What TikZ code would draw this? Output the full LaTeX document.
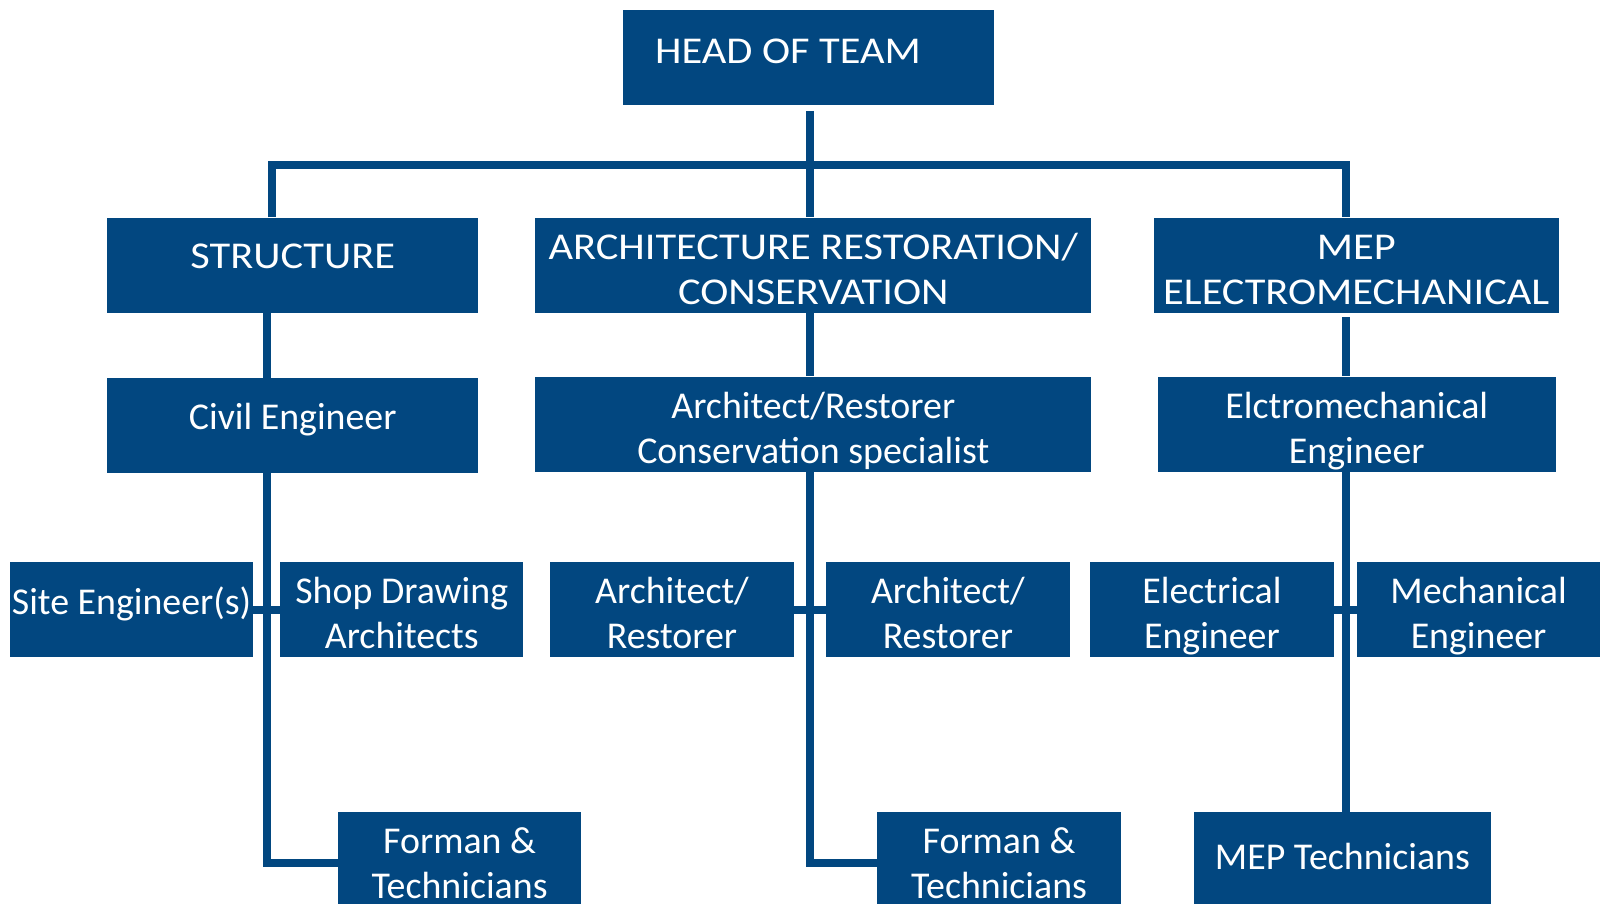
\documentclass[tikz,border=0pt]{standalone}
\usepackage{fontspec}
\setmainfont{Carlito}
\newfontfamily\capsfont[FakeStretch=1.12]{Carlito}
\usetikzlibrary{calc}
\definecolor{boxblue}{RGB}{2,71,128}
\newcommand{\oneline}[2][51]{\raisebox{0pt}[#1pt][\dimexpr 93pt-#1pt\relax]{\makebox[0pt]{#2}}}
\newcommand{\twoline}[2]{\raisebox{0pt}[41pt][52pt]{\makebox[0pt]{\begin{tabular}[t]{@{}c@{}}#1\\#2\end{tabular}}}}
\tikzset{
  box/.style={fill=boxblue, draw=none, inner sep=0pt, minimum height=93pt, text=white,
    font=\fontsize{37pt}{44pt}\selectfont},
  capsbox/.style={box, font=\capsfont\fontsize{37pt}{44pt}\selectfont},
  conn/.style={draw=boxblue, line width=7.8pt, line join=miter}
}
\begin{document}
\begin{tikzpicture}[x=1pt, y=-1pt]
\useasboundingbox (0,0) rectangle (1568,883);
\clip (0,0) rectangle (1568,883);
\fill[white] (0,0) rectangle (1568,883);

% level 0
\node[capsbox, minimum width=362pt] (head) at (790,56.5)
  {\raisebox{0pt}[52pt][41pt]{\makebox[0pt][l]{\hspace{-150pt}HEAD OF TEAM}}};
% level 1
\node[capsbox, minimum width=362pt] (structure) at (286,259) {\oneline[50]{STRUCTURE}};
\node[capsbox, minimum width=543pt] (arch) at (794.5,259) {\twoline{ARCHITECTURE RESTORATION/}{CONSERVATION}};
\node[capsbox, minimum width=396pt] (mep) at (1325,259) {\twoline{MEP}{ELECTROMECHANICAL}};
% level 2
\node[box, minimum width=362pt] (civil) at (286,415.5) {\oneline[51]{Civil Engineer}};
\node[box, minimum width=543pt] (archrest) at (794.5,414.5) {\twoline{Architect/Restorer}{Conservation specialist}};
\node[box, minimum width=389pt] (elmech) at (1325.5,414.5) {\twoline{Elctromechanical}{Engineer}};
% level 3
\node[box, minimum width=237pt] (site) at (128.5,595.5) {\oneline[51]{Site Engineer(s)}};
\node[box, minimum width=237pt] (shop) at (392.5,595.5) {\twoline{Shop Drawing}{Architects}};
\node[box, minimum width=238pt] (ar1) at (656.5,595.5) {\twoline{Architect/}{Restorer}};
\node[box, minimum width=238pt] (ar2) at (926,595.5) {\twoline{Architect/}{Restorer}};
\node[box, minimum width=238pt] (elec) at (1184,595.5) {\twoline{Electrical}{Engineer}};
\node[box, minimum width=237pt] (mech) at (1444.5,595.5) {\twoline{Mechanical}{Engineer}};
% level 4
\node[box, minimum width=238pt] (forman1) at (449,839.5) {\twoline{Forman \&}{Technicians}};
\node[box, minimum width=238pt] (forman2) at (976,839.5) {\twoline{Forman \&}{Technicians}};
\node[box, minimum width=291pt] (meptech) at (1311.5,839.5) {\oneline[56]{MEP Technicians}};

% reference columns for the connectors
\coordinate (xS) at (266,0);
\coordinate (xC) at (261,0);
\coordinate (xA) at (791,0);
\coordinate (xM) at (1315,0);
\coordinate (barY) at (0,161.5);

\draw[conn] (xS |- structure.north) -- (xS |- barY) -- (xM |- barY) -- (xM |- mep.north);
\draw[conn] (xA |- head.south) ++(0,5) -- (xA |- arch.north);
\draw[conn] (xC |- structure.south) -- (xC |- civil.north);
\draw[conn] (xC |- civil.south) |- ([yshift=-3.5pt]forman1.west);
\draw[conn] (site.east) -- (shop.west);
\draw[conn] (xA |- arch.south) -- (xA |- archrest.north);
\draw[conn] (xA |- archrest.south) |- ([yshift=-3.5pt]forman2.west);
\draw[conn] (ar1.east) -- (ar2.west);
\draw[conn] (xM |- mep.south) ++(0,4) -- (xM |- elmech.north);
\draw[conn] (xM |- elmech.south) -- (xM |- meptech.north);
\draw[conn] (elec.east) -- (mech.west);
\end{tikzpicture}
\end{document}
